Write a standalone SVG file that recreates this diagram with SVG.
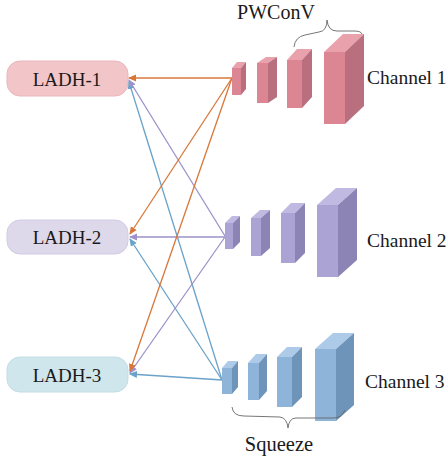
<svg xmlns="http://www.w3.org/2000/svg" width="446" height="459" viewBox="0 0 446 459">
<style>
text{font-family:"Liberation Serif","Times New Roman",serif;fill:#1a1a1a;}
.ln{fill:none;stroke-width:1.3;}
.o{stroke:#d9773a;}
.p{stroke:#9d92c9;}
.b{stroke:#6aa2c9;}
.brace{fill:none;stroke:#666;stroke-width:0.9;}
.r1{fill:#dc8593;}.r2{fill:#b96f7e;}.r3{fill:#e9a1ab;}
.v1{fill:#aaa3d3;}.v2{fill:#8b84b4;}.v3{fill:#c0bae2;}
.u1{fill:#8fb4da;}.u2{fill:#6e94b9;}.u3{fill:#adcbe8;}
</style>
<defs>
<marker id="ao" markerWidth="8" markerHeight="8" refX="7" refY="4" orient="auto" markerUnits="userSpaceOnUse"><path d="M0,0.5 L8,4 L0,7.5 Z" fill="#d9773a"/></marker>
<marker id="ap" markerWidth="8" markerHeight="8" refX="7" refY="4" orient="auto" markerUnits="userSpaceOnUse"><path d="M0,0.5 L8,4 L0,7.5 Z" fill="#9d92c9"/></marker>
<marker id="ab" markerWidth="8" markerHeight="8" refX="7" refY="4" orient="auto" markerUnits="userSpaceOnUse"><path d="M0,0.5 L8,4 L0,7.5 Z" fill="#6aa2c9"/></marker>
</defs>

<g id="ladh1"><rect x="7" y="61" width="121" height="35" rx="13" fill="#f2c5c8" stroke="#ebb7bc"/><text x="67" y="86" font-size="19" text-anchor="middle">LADH-1</text></g>
<g id="ladh2"><rect x="7" y="220" width="121" height="34" rx="13" fill="#ddd8ea" stroke="#d2cce3"/><text x="67" y="244" font-size="19" text-anchor="middle">LADH-2</text></g>
<g id="ladh3"><rect x="7" y="357" width="121" height="35" rx="13" fill="#cfe6ec" stroke="#c2dde5"/><text x="67" y="382" font-size="19" text-anchor="middle">LADH-3</text></g>

<g id="connectors">
<line class="ln b" x1="222" y1="380" x2="129" y2="82" marker-end="url(#ab)"/>
<line class="ln p" x1="225" y1="236" x2="129" y2="80" marker-end="url(#ap)"/>
<line class="ln o" x1="232" y1="78" x2="129" y2="78" marker-end="url(#ao)"/>
<line class="ln b" x1="222" y1="380" x2="130" y2="239" marker-end="url(#ab)"/>
<line class="ln p" x1="225" y1="237" x2="130" y2="237" marker-end="url(#ap)"/>
<line class="ln o" x1="232" y1="78" x2="130" y2="234" marker-end="url(#ao)"/>
<line class="ln b" x1="222" y1="380" x2="130" y2="374" marker-end="url(#ab)"/>
<line class="ln p" x1="225" y1="237" x2="130" y2="373" marker-end="url(#ap)"/>
<line class="ln o" x1="232" y1="78" x2="130" y2="371" marker-end="url(#ao)"/>
</g>

<g id="channel1">
<g><rect class="r1" x="232" y="68" width="9" height="27"/><polygon class="r3" points="232,68 237,62 246,62 241,68"/><polygon class="r2" points="241,68 246,62 246,89 241,95"/></g>
<g><rect class="r1" x="257" y="63" width="11" height="40"/><polygon class="r3" points="257,63 266,57 277,57 268,63"/><polygon class="r2" points="268,63 277,57 277,97 268,103"/></g>
<g><rect class="r1" x="287" y="60" width="15" height="48"/><polygon class="r3" points="287,60 297,49 312,49 302,60"/><polygon class="r2" points="302,60 312,49 312,97 302,108"/></g>
<g><rect class="r1" x="324" y="52" width="21" height="72"/><polygon class="r3" points="324,52 343,34 364,34 345,52"/><polygon class="r2" points="345,52 364,34 364,106 345,124"/></g>
<text x="367" y="84" font-size="19.5">Channel 1</text>
</g>

<g id="channel2">
<g><rect class="v1" x="225" y="223" width="8" height="26"/><polygon class="v3" points="225,223 232,216 240,216 233,223"/><polygon class="v2" points="233,223 240,216 240,242 233,249"/></g>
<g><rect class="v1" x="251" y="218" width="10" height="38"/><polygon class="v3" points="251,218 260,210 270,210 261,218"/><polygon class="v2" points="261,218 270,210 270,248 261,256"/></g>
<g><rect class="v1" x="281" y="213" width="14" height="50"/><polygon class="v3" points="281,213 291,203 305,203 295,213"/><polygon class="v2" points="295,213 305,203 305,253 295,263"/></g>
<g><rect class="v1" x="317" y="205" width="21" height="72"/><polygon class="v3" points="317,205 336,188 357,188 338,205"/><polygon class="v2" points="338,205 357,188 357,260 338,277"/></g>
<text x="367" y="247" font-size="19.5">Channel 2</text>
</g>

<g id="channel3">
<g><rect class="u1" x="222" y="368" width="10" height="26"/><polygon class="u3" points="222,368 228,361 238,361 232,368"/><polygon class="u2" points="232,368 238,361 238,387 232,394"/></g>
<g><rect class="u1" x="248" y="363" width="11" height="37"/><polygon class="u3" points="248,363 256,354 267,354 259,363"/><polygon class="u2" points="259,363 267,354 267,391 259,400"/></g>
<g><rect class="u1" x="277" y="357" width="15" height="50"/><polygon class="u3" points="277,357 287,347 302,347 292,357"/><polygon class="u2" points="292,357 302,347 302,397 292,407"/></g>
<g><rect class="u1" x="315" y="349" width="21" height="72"/><polygon class="u3" points="315,349 333,333 354,333 336,349"/><polygon class="u2" points="336,349 354,333 354,405 336,421"/></g>
<text x="365" y="388" font-size="19.5">Channel 3</text>
</g>

<g id="pwconv">
<path class="brace" d="M294,47 Q295,37 305,35 L319,32 Q327,31 327,20 Q328,31 337,31 L354,31 Q361,31 362,34"/>
<text x="276" y="19" font-size="20" text-anchor="middle">PWConV</text>
</g>
<g id="squeeze">
<path class="brace" d="M232,407 Q233,416 244,416 L280,417 Q287,418 288,428 Q289,418 296,418 L333,418 Q342,418 345,410"/>
<text x="279" y="451" font-size="20.5" text-anchor="middle">Squeeze</text>
</g>
</svg>
